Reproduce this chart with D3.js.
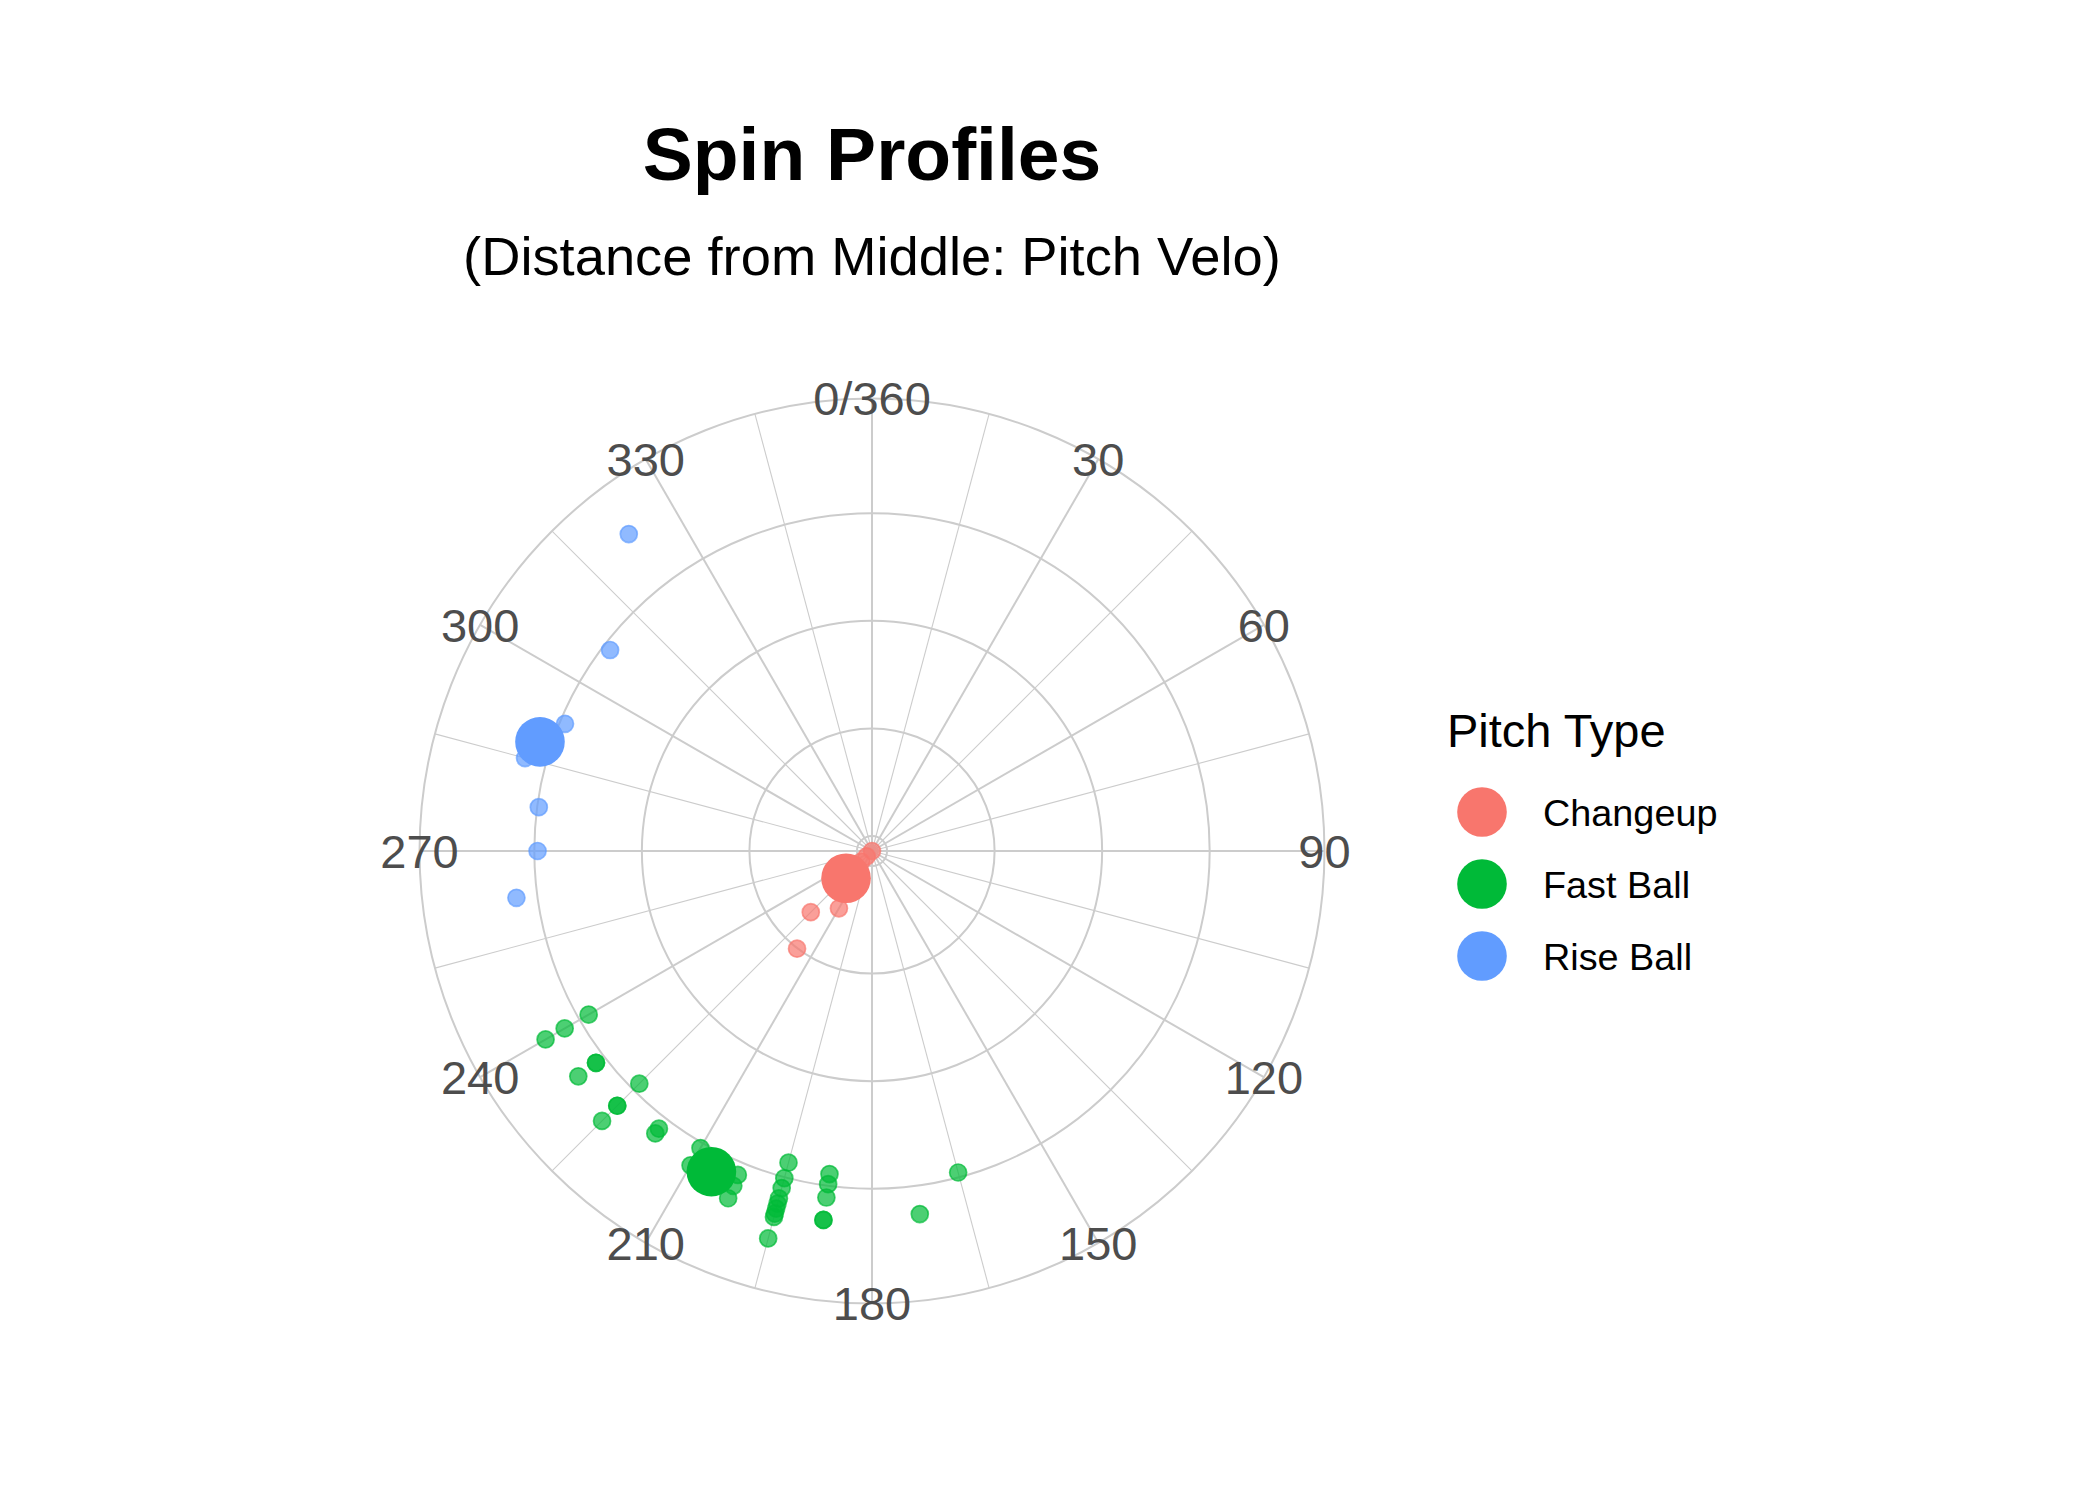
<!DOCTYPE html>
<html><head><meta charset="utf-8">
<script src="https://cdn.jsdelivr.net/npm/d3@7/dist/d3.min.js"></script>
<style>body{margin:0;background:#fff}</style>
</head><body>
<svg id="chart" width="2100" height="1499"></svg>
<script>
// ---- data ----
const pitchTypes = ["Changeup", "Fast Ball", "Rise Ball"];
const pitchColors = ["#F8766D", "#00BA38", "#619CFF"];

// spin axis (deg) and pitch velo, per pitch
const changeupAxis = [225, 225, 225, 210, 225, 217.5];
const changeupVelo = [-2.8, -1.4, 0.0, 9.5, 13.3, 20.1];

const fastballAxis = [240, 240, 240,
  232.5, 232.5, 232.5,
  225, 225, 225, 225,
  217.5, 217.5,
  210, 210,
  202.5, 202.5, 202.5,
  195, 195, 195, 195, 195, 195, 195, 195, 195,
  187.5, 187.5, 187.5, 187.5, 187.5,
  172.5, 165];
const fastballVelo = [58.05, 63.2, 67.3,
  61.9, 61.9, 66.05,
  58.4, 64.2, 64.2, 68.2,
  62.3, 63.4,
  61.0, 64.7,
  62.4, 64.6, 67.1,
  57.2, 60.2, 62.1, 64.1, 65.1, 66.05, 67.0, 67.65, 71.8,
  57.8, 59.7, 62.2, 66.4, 66.4,
  65.3, 59.1];

const riseAxis = [322.5, 307.5, 292.5, 285, 277.5, 270, 262.5];
const riseVelo = [71.5, 58.6, 59.0, 64.0, 59.7, 59.4, 63.9];

// average per pitch type (large points)
const meanAxis = [223.6, 206.6, 288.2];
const meanVelo = [4.2, 63.9, 62.2];

const thetaBreaks = [0, 30, 60, 90, 120, 150, 180, 210, 240, 270, 300, 330];
const thetaLabels = ["0/360", "30", "60", "90", "120", "150", "180", "210", "240", "270", "300", "330"];
const thetaMinor = [15, 45, 75, 105, 135, 165, 195, 225, 255, 285, 315, 345];
const rBreaks = [0, 20, 40, 60];
const rLimits = [-2.8, 72.0];

const titleText = "Spin Profiles";
const subtitleText = "(Distance from Middle: Pitch Velo)";
const legendTitle = "Pitch Type";

// ---- layout ----
const cx = 872, cy = 851;
const rInner = 402.2;               // data range -> 0.4
const rOuter = rInner * 0.45 / 0.4; // outer ring / labels -> 0.45
const FONT = "'Liberation Sans', Arial, Helvetica, sans-serif";

const svg = d3.select("#chart");
const theta = d3.scaleLinear().domain([0, 360]).range([0, 2 * Math.PI]);
const rad = d3.scaleLinear().domain(rLimits).range([0, rInner]);
const color = d3.scaleOrdinal().domain(pitchTypes).range(pitchColors);

const px = (a, r) => cx + r * Math.sin(theta(a));
const py = (a, r) => cy - r * Math.cos(theta(a));

const grid = svg.append("g");
// minor spokes
grid.selectAll("line.minor").data(thetaMinor).join("line")
  .attr("x1", cx).attr("y1", cy)
  .attr("x2", d => px(d, rOuter)).attr("y2", d => py(d, rOuter))
  .attr("stroke", "#CCCCCC").attr("stroke-width", 1.1);
// rings
grid.selectAll("circle.ring").data(rBreaks.map(b => rad(b)).concat([rOuter])).join("circle")
  .attr("cx", cx).attr("cy", cy).attr("r", d => d)
  .attr("fill", "none").attr("stroke", "#CCCCCC").attr("stroke-width", 2);
// major spokes
grid.selectAll("line.major").data(thetaBreaks).join("line")
  .attr("x1", cx).attr("y1", cy)
  .attr("x2", d => px(d, rOuter)).attr("y2", d => py(d, rOuter))
  .attr("stroke", "#CCCCCC").attr("stroke-width", 2);

// small points
const pts = [];
changeupAxis.forEach((a, i) => pts.push({type: pitchTypes[0], a, v: changeupVelo[i]}));
fastballAxis.forEach((a, i) => pts.push({type: pitchTypes[1], a, v: fastballVelo[i]}));
riseAxis.forEach((a, i) => pts.push({type: pitchTypes[2], a, v: riseVelo[i]}));

svg.append("g").selectAll("circle").data(pts).join("circle")
  .attr("cx", d => px(d.a, rad(d.v))).attr("cy", d => py(d.a, rad(d.v)))
  .attr("r", 8.5)
  .attr("fill", d => color(d.type)).attr("fill-opacity", 0.7)
  .attr("stroke", d => color(d.type)).attr("stroke-opacity", 0.7).attr("stroke-width", 1.7);

// mean points
const means = pitchTypes.map((t, i) => ({type: t, a: meanAxis[i], v: meanVelo[i]}));
svg.append("g").selectAll("circle").data(means).join("circle")
  .attr("cx", d => px(d.a, rad(d.v))).attr("cy", d => py(d.a, rad(d.v)))
  .attr("r", 24.8)
  .attr("fill", d => color(d.type));

// theta labels
svg.append("g").selectAll("text").data(thetaBreaks).join("text")
  .attr("x", d => px(d, rOuter)).attr("y", d => py(d, rOuter))
  .attr("dy", "0.36em")
  .attr("text-anchor", "middle")
  .attr("font-family", FONT).attr("font-size", 47).attr("fill", "#4D4D4D")
  .text((d, i) => thetaLabels[i]);

// titles
svg.append("text").attr("x", cx).attr("y", 180).attr("text-anchor", "middle")
  .attr("font-family", FONT).attr("font-weight", "bold").attr("font-size", 75)
  .attr("fill", "#000").text(titleText);
svg.append("text").attr("x", cx).attr("y", 275).attr("text-anchor", "middle")
  .attr("font-family", FONT).attr("font-size", 54.3)
  .attr("fill", "#000").text(subtitleText);

// legend
const lg = svg.append("g");
lg.append("text").attr("x", 1447).attr("y", 747)
  .attr("font-family", FONT).attr("font-size", 47).attr("fill", "#000").text(legendTitle);
const items = lg.selectAll("g.item").data(pitchTypes).join("g")
  .attr("transform", (d, i) => `translate(0, ${812 + i * 72})`);
items.append("circle").attr("cx", 1482).attr("cy", 0).attr("r", 24.8).attr("fill", d => color(d));
items.append("text").attr("x", 1543).attr("y", 0).attr("dy", "0.36em")
  .attr("font-family", FONT).attr("font-size", 37.8).attr("fill", "#000").text(d => d);
</script>
</body></html>
